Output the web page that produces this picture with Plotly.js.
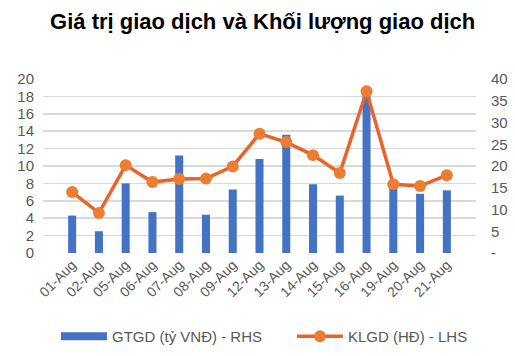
<!DOCTYPE html>
<html>
<head>
<meta charset="utf-8">
<script src="https://cdn.plot.ly/plotly-3.0.1.min.js"></script>
<style>html,body{margin:0;padding:0;background:#fff}#chart{width:515px;height:356px}</style>
</head>
<body>
<div id="chart"></div>
<script>
const categories = ["01-Aug","02-Aug","05-Aug","06-Aug","07-Aug","08-Aug","09-Aug","12-Aug","13-Aug","14-Aug","15-Aug","16-Aug","19-Aug","20-Aug","21-Aug"];
const gtgd = [4.3, 2.5, 8.0, 4.7, 11.2, 4.4, 7.3, 10.8, 13.6, 7.9, 6.6, 18.2, 7.7, 6.8, 7.2];
const klgd = [14.0, 9.2, 20.2, 16.3, 17.0, 17.1, 19.9, 27.4, 25.5, 22.5, 18.4, 37.2, 15.8, 15.4, 17.9];
const leftTicks = [0,2,4,6,8,10,12,14,16,18,20];
const rightTickVals = [0,5,10,15,20,25,30,35,40];
const rightTickText = ["-","5","10","15","20","25","30","35","40"];
const nameBar = "GTGD (tỷ VNĐ) - RHS";
const nameLine = "KLGD (HĐ) - LHS";
const titleText = "Giá trị giao dịch và Khối lượng giao dịch";

const barColor = "#4472C4";
const traces = [
  {type:"bar", x:categories, y:gtgd, name:nameBar, marker:{color:barColor}, yaxis:"y", showlegend:false},
  // legend swatch for the bar series (wide rectangle like the reference)
  {type:"scatter", mode:"lines", x:[null], y:[null], name:nameBar, line:{color:barColor, width:8}, yaxis:"y",
   showlegend:true, legend:"legend"},
  {type:"scatter", mode:"lines+markers", x:categories, y:klgd, name:nameLine, yaxis:"y2", legend:"legend2",
   line:{color:"#E8642A", width:3.5}, marker:{color:"#ED7D31", size:12}}
];
const legendCommon = {orientation:"h", xanchor:"left", y:-0.48, yanchor:"middle", itemwidth:46,
                      font:{size:15, color:"#595959"}, bgcolor:"rgba(0,0,0,0)"};
const layout = {
  width:515, height:356,
  margin:{l:43, r:39, t:79, b:103, autoexpand:false},
  paper_bgcolor:"#fff", plot_bgcolor:"#fff",
  font:{family:"Liberation Sans, Arial, sans-serif", color:"#595959", size:14},
  title:{text:"<b>"+titleText+"</b>", font:{size:22, color:"#000"}, x:0.51, xanchor:"center", y:0.94, yanchor:"middle"},
  bargap:0.7,
  showlegend:true,
  legend:Object.assign({}, legendCommon, {x:0.03}),
  legend2:Object.assign({}, legendCommon, {x:0.575}),
  xaxis:{type:"category", tickangle:-45, tickfont:{size:14, color:"#595959"}, showgrid:false, zeroline:false,
         showline:false, ticks:"", automargin:false},
  yaxis:{range:[0,20], tickvals:leftTicks, showgrid:true, gridcolor:"#D9D9D9", gridwidth:1.5, zeroline:false,
         tickfont:{size:15, color:"#595959"}, ticklabelstandoff:8, automargin:false},
  yaxis2:{range:[0,40], tickvals:rightTickVals, ticktext:rightTickText, overlaying:"y", side:"right", showgrid:false,
          zeroline:false, tickfont:{size:15, color:"#595959"}, ticklabelstandoff:14, automargin:false}
};
Plotly.newPlot("chart", traces, layout, {displayModeBar:false, staticPlot:true});
</script>
</body>
</html>
